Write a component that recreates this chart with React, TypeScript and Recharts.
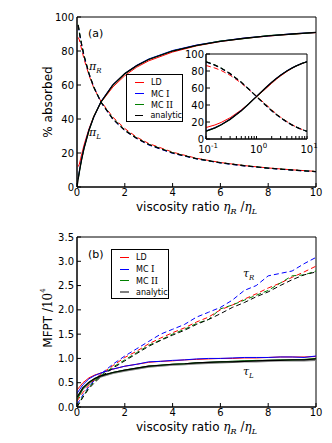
import React from "react";
import { LineChart, Line, XAxis, YAxis, Label, ReferenceArea } from "recharts";

// ---- panel (a): % absorbed vs viscosity ratio ----
const ratioA = [0, 0.05, 0.1, 0.15, 0.2, 0.3, 0.5, 0.7, 1, 1.5, 2, 2.5, 3, 4, 5, 6, 7, 8, 9, 10];

// solid curves (pi_L) and dashed curves (pi_R)
const anPiL = [0, 4.8, 9.1, 13.0, 16.7, 23.1, 33.3, 41.2, 50, 60, 66.7, 71.4, 75, 80, 83.3, 85.7, 87.5, 88.9, 90, 90.9];
const anPiR = [null, 95.2, 90.9, 87.0, 83.3, 76.9, 66.7, 58.8, 50, 40, 33.3, 28.6, 25, 20, 16.7, 14.3, 12.5, 11.1, 10, 9.1];
const ldPiL = [null, 12, 13.5, 16.5, 19.5, 25.0, 34.2, 41.5, 49.7, 58.8, 65.5, 70.5, 74.2, 79.4, 83.0, 85.6, 87.4, 88.8, 89.9, 90.8];
const ldPiR = [null, 88, 86.5, 83.5, 80.6, 75.0, 65.8, 58.4, 50.4, 41.1, 34.4, 29.3, 25.6, 20.5, 16.9, 14.4, 12.6, 11.2, 10.1, 9.2];
const mc1PiL = [null, 5, 9.5, 13.3, 16.9, 23.4, 33.6, 41.0, 50.2, 60.2, 66.8, 71.6, 75.3, 80.3, 83.5, 85.8, 87.6, 88.9, 90.1, 90.9];
const mc1PiR = [null, 95, 90.6, 86.8, 83.1, 76.7, 66.5, 59.0, 49.8, 39.8, 33.1, 28.5, 24.7, 19.8, 16.5, 14.1, 12.4, 11.0, 9.9, 9.0];
const mc2PiL = [null, 4.5, 9.0, 12.8, 16.5, 23.0, 33.1, 41.4, 49.8, 59.8, 66.5, 71.3, 75.1, 80.1, 83.2, 85.9, 87.3, 89.1, 89.9, 90.9];
const mc2PiR = [null, 95.5, 91.0, 87.1, 83.5, 77.0, 66.9, 58.7, 50.1, 40.3, 33.5, 28.8, 25.1, 20.2, 16.6, 14.2, 12.6, 11.1, 10.0, 9.1];

// ---- panel (b): MFPT / 10^4 ----
const ratioB = [0, 0.25, 0.5, 0.75, 1, 1.5, 2, 2.5, 3, 3.5, 4, 4.5, 5, 5.5, 6, 6.5, 7, 7.5, 8, 8.5, 9, 9.5, 10];

const ldTauL = [0.35, 0.5, 0.6, 0.66, 0.7, 0.78, 0.84, 0.88, 0.92, 0.94, 0.95, 0.97, 0.98, 0.99, 1.0, 1.0, 1.01, 1.01, 1.02, 1.03, 1.03, 1.03, 1.04];
const mc1TauL = [0.28, 0.46, 0.58, 0.65, 0.7, 0.78, 0.84, 0.88, 0.93, 0.94, 0.96, 0.97, 0.99, 1.0, 1.0, 1.01, 1.02, 1.02, 1.02, 1.03, 1.03, 1.02, 1.05];
const mc2TauL = [0.15, 0.38, 0.5, 0.58, 0.64, 0.71, 0.76, 0.8, 0.84, 0.86, 0.88, 0.89, 0.91, 0.92, 0.93, 0.94, 0.95, 0.96, 0.96, 0.97, 0.97, 0.98, 1.0];
const anTauL = [0.18, 0.38, 0.49, 0.57, 0.63, 0.7, 0.75, 0.79, 0.83, 0.85, 0.87, 0.88, 0.9, 0.91, 0.92, 0.93, 0.94, 0.94, 0.95, 0.96, 0.96, 0.96, 0.97];
const blkTauL = [0.2, 0.4, 0.51, 0.59, 0.64, 0.71, 0.76, 0.8, 0.84, 0.86, 0.88, 0.89, 0.91, 0.92, 0.93, 0.93, 0.94, 0.95, 0.96, 0.96, 0.97, 0.97, 0.99];

const ldTauR = [0.12, 0.3, 0.45, 0.57, 0.68, 0.85, 1.02, 1.15, 1.3, 1.42, 1.53, 1.63, 1.75, 1.85, 2.0, 2.1, 2.22, 2.33, 2.45, 2.55, 2.67, 2.78, 2.9];
const mc1TauR = [0.05, 0.25, 0.42, 0.56, 0.68, 0.88, 1.05, 1.2, 1.35, 1.5, 1.6, 1.7, 1.85, 1.95, 2.05, 2.2, 2.4, 2.5, 2.7, 2.75, 2.8, 2.95, 3.08];
const mc2TauR = [0.0, 0.22, 0.4, 0.54, 0.65, 0.82, 0.97, 1.12, 1.27, 1.38, 1.5, 1.6, 1.72, 1.8, 2.02, 2.1, 2.2, 2.3, 2.4, 2.55, 2.7, 2.72, 2.8];
const blkTauR = [0.0, 0.2, 0.38, 0.51, 0.62, 0.8, 0.95, 1.1, 1.25, 1.37, 1.48, 1.58, 1.7, 1.8, 1.92, 2.05, 2.15, 2.27, 2.37, 2.5, 2.62, 2.72, 2.78];

const ticksX = [0, 2, 4, 6, 8, 10];
const ticksA = [0, 20, 40, 60, 80, 100];
const ticksB = [0, 0.5, 1, 1.5, 2, 2.5, 3, 3.5];
const insetMajor = [0.1, 1, 10];
const insetMinor = [0.2, 0.3, 0.4, 0.5, 0.6, 0.7, 0.8, 0.9, 2, 3, 4, 5, 6, 7, 8, 9];
const insetTicks = [...insetMajor, ...insetMinor].sort((a, b) => a - b);

const legendItems = [
  { name: "LD", roman: "", color: "#ff0000" },
  { name: "MC ", roman: "I", color: "#0000ff" },
  { name: "MC ", roman: "II", color: "#008000" },
  { name: "analytic", roman: "", color: "#000000" },
];

const dataA = ratioA.map((x, i) => ({
  x,
  anL: anPiL[i], anR: anPiR[i],
  ldL: ldPiL[i], ldR: ldPiR[i],
  m1L: mc1PiL[i], m1R: mc1PiR[i],
  m2L: mc2PiL[i], m2R: mc2PiR[i],
}));
const dataInset = dataA.filter((d) => d.x >= 0.1);

const dataB = ratioB.map((x, i) => ({
  x,
  ldL: ldTauL[i], m1L: mc1TauL[i], m2L: mc2TauL[i], anL: anTauL[i], bkL: blkTauL[i],
  ldR: ldTauR[i], m1R: mc1TauR[i], m2R: mc2TauR[i], bkR: blkTauR[i],
}));

const SANS = "DejaVu Sans, sans-serif";
const SERIF = "DejaVu Serif, serif";
const DASH = "5 3";
const tickFont = { fontSize: 10, fill: "#000", fontFamily: SANS };

function XLabel(props: any) {
  const vb = props.viewBox;
  const cx = vb.x + vb.width / 2;
  return (
    <text x={cx} y={vb.y + 24} textAnchor="middle" fontSize={12} fontFamily={SANS} fill="#000">
      viscosity ratio{" "}
      <tspan fontFamily={SERIF} fontStyle="italic">η</tspan>
      <tspan fontFamily={SERIF} fontStyle="italic" fontSize={8} dy={3}>R</tspan>
      <tspan fontFamily={SERIF} dy={-3}> /</tspan>
      <tspan fontFamily={SERIF} fontStyle="italic">η</tspan>
      <tspan fontFamily={SERIF} fontStyle="italic" fontSize={8} dy={3}>L</tspan>
    </text>
  );
}

function YLabelA(props: any) {
  const vb = props.viewBox;
  const cx = 48;
  const cy = vb.y + vb.height / 2;
  return (
    <text x={cx} y={cy} transform={`rotate(-90, ${cx}, ${cy})`} textAnchor="middle" dominantBaseline="central" fontSize={12} fontFamily={SANS} fill="#000">
      % absorbed
    </text>
  );
}

function YLabelB(props: any) {
  const vb = props.viewBox;
  const cx = 48;
  const cy = vb.y + vb.height / 2 - 4;
  return (
    <text x={cx} y={cy} transform={`rotate(-90, ${cx}, ${cy})`} textAnchor="middle" dominantBaseline="central" fontSize={12} fontFamily={SANS} fill="#000">
      MFPT
      <tspan fontFamily={SERIF}> /10</tspan>
      <tspan fontFamily={SERIF} fontSize={7} dy={-5}>4</tspan>
    </text>
  );
}

// only decades get a label; the other log ticks are bare tick marks
function InsetXTick(props: any) {
  const { x, y, payload } = props;
  if (!insetMajor.includes(payload.value)) return <g />;
  const exp = Math.round(Math.log10(payload.value));
  return (
    <text x={x + 2} y={y + 12} textAnchor="middle" fontSize={10} fontFamily={SANS} fill="#000">
      10
      <tspan fontSize={7} dy={-5}>{exp}</tspan>
    </text>
  );
}

function LegendBox({ left, top, width, height, rowH, lastColor }: any) {
  return (
    <div
      style={{
        position: "absolute", left, top, width, height, boxSizing: "border-box",
        border: "1px solid #000", background: "#fff", fontFamily: SANS, fontSize: 8,
        paddingTop: 2,
      }}
    >
      {legendItems.map((it, i) => (
        <div key={it.name + i} style={{ display: "flex", alignItems: "center", height: rowH }}>
          <div style={{ marginLeft: 8, width: 9, height: i === 3 && lastColor !== "#000" ? 2 : 1, background: i === 3 ? lastColor : it.color }} />
          <span style={{ marginLeft: 7 }}>
            {it.name}
            {it.roman && <span style={{ fontFamily: SERIF, fontSize: 9 }}>{it.roman}</span>}
          </span>
        </div>
      ))}
    </div>
  );
}

export default function App() {
  return (
    <div style={{ position: "absolute", left: 0, top: 0, width: 332, height: 443, background: "#fff", fontFamily: SANS }}>
      {/* panel (a) */}
      <div style={{ position: "absolute", left: 0, top: 0 }}>
        <LineChart width={332} height={220} data={dataA} margin={{ top: 17, right: 16, bottom: 0, left: 0 }}>
          <XAxis type="number" dataKey="x" domain={[0, 10]} ticks={ticksX} interval={0} height={33} tick={tickFont} tickSize={-4} tickMargin={6} stroke="#000" allowDataOverflow>
            <Label content={XLabel} />
          </XAxis>
          <YAxis type="number" domain={[0, 100]} ticks={ticksA} interval={0} width={77} tick={tickFont} tickSize={-4} tickMargin={7} stroke="#000" allowDataOverflow>
            <Label content={YLabelA} />
          </YAxis>
          <ReferenceArea x1={0} x2={10} y1={0} y2={100} fill="none" stroke="#000" strokeWidth={1} ifOverflow="visible" />
          <Line dataKey="ldL" stroke="#ff0000" strokeWidth={1} dot={false} isAnimationActive={false} />
          <Line dataKey="ldR" stroke="#ff0000" strokeWidth={1} strokeDasharray={DASH} dot={false} isAnimationActive={false} />
          <Line dataKey="m1L" stroke="#0000ff" strokeWidth={1} dot={false} isAnimationActive={false} />
          <Line dataKey="m1R" stroke="#0000ff" strokeWidth={1} strokeDasharray={DASH} dot={false} isAnimationActive={false} />
          <Line dataKey="m2L" stroke="#008000" strokeWidth={1} dot={false} isAnimationActive={false} />
          <Line dataKey="m2R" stroke="#008000" strokeWidth={1} strokeDasharray={DASH} dot={false} isAnimationActive={false} />
          <Line dataKey="anL" stroke="#000" strokeWidth={1.3} dot={false} isAnimationActive={false} />
          <Line dataKey="anR" stroke="#000" strokeWidth={1.3} strokeDasharray={DASH} dot={false} isAnimationActive={false} />
        </LineChart>
      </div>

      {/* inset of panel (a), log x */}
      <div style={{ position: "absolute", left: 180, top: 45 }}>
        <LineChart width={145} height={115} data={dataInset} margin={{ top: 9, right: 18, bottom: 0, left: 0 }}>
          <XAxis type="number" scale="log" dataKey="x" domain={[0.1, 10]} ticks={insetTicks} interval={0} height={21} tick={<InsetXTick />} tickSize={-3} tickMargin={5} stroke="#000" allowDataOverflow />
          <YAxis type="number" domain={[0, 100]} ticks={ticksA} interval={0} width={26} tick={tickFont} tickSize={-4} tickMargin={6} stroke="#000" allowDataOverflow />
          <ReferenceArea x1={0.1} x2={10} y1={0} y2={100} fill="none" stroke="#000" strokeWidth={1} ifOverflow="visible" />
          <Line dataKey="ldL" stroke="#ff0000" strokeWidth={1} dot={false} isAnimationActive={false} />
          <Line dataKey="ldR" stroke="#ff0000" strokeWidth={1} strokeDasharray={DASH} dot={false} isAnimationActive={false} />
          <Line dataKey="m1L" stroke="#0000ff" strokeWidth={1} dot={false} isAnimationActive={false} />
          <Line dataKey="m1R" stroke="#0000ff" strokeWidth={1} strokeDasharray={DASH} dot={false} isAnimationActive={false} />
          <Line dataKey="m2L" stroke="#008000" strokeWidth={1} dot={false} isAnimationActive={false} />
          <Line dataKey="m2R" stroke="#008000" strokeWidth={1} strokeDasharray={DASH} dot={false} isAnimationActive={false} />
          <Line dataKey="anL" stroke="#000" strokeWidth={1.3} dot={false} isAnimationActive={false} />
          <Line dataKey="anR" stroke="#000" strokeWidth={1.3} strokeDasharray={DASH} dot={false} isAnimationActive={false} />
        </LineChart>
      </div>

      {/* panel (b) */}
      <div style={{ position: "absolute", left: 0, top: 220 }}>
        <LineChart width={332} height={223} data={dataB} margin={{ top: 17, right: 16, bottom: 0, left: 0 }}>
          <XAxis type="number" dataKey="x" domain={[0, 10]} ticks={ticksX} interval={0} height={36} tick={tickFont} tickSize={-4} tickMargin={6} stroke="#000" allowDataOverflow>
            <Label content={XLabel} />
          </XAxis>
          <YAxis type="number" domain={[0, 3.5]} ticks={ticksB} interval={0} width={77} tick={tickFont} tickSize={-4} tickMargin={7} tickFormatter={(v: number) => v.toFixed(1)} stroke="#000" allowDataOverflow>
            <Label content={YLabelB} />
          </YAxis>
          <ReferenceArea x1={0} x2={10} y1={0} y2={3.5} fill="none" stroke="#000" strokeWidth={1} ifOverflow="visible" />
          <Line dataKey="anL" stroke="#808080" strokeWidth={2.2} dot={false} isAnimationActive={false} />
          <Line dataKey="ldL" stroke="#ff0000" strokeWidth={1} dot={false} isAnimationActive={false} />
          <Line dataKey="ldR" stroke="#ff0000" strokeWidth={1} strokeDasharray={DASH} dot={false} isAnimationActive={false} />
          <Line dataKey="m1L" stroke="#0000ff" strokeWidth={1} dot={false} isAnimationActive={false} />
          <Line dataKey="m1R" stroke="#0000ff" strokeWidth={1} strokeDasharray={DASH} dot={false} isAnimationActive={false} />
          <Line dataKey="m2L" stroke="#008000" strokeWidth={1} dot={false} isAnimationActive={false} />
          <Line dataKey="m2R" stroke="#008000" strokeWidth={1} strokeDasharray={DASH} dot={false} isAnimationActive={false} />
          <Line dataKey="bkL" stroke="#000" strokeWidth={1.2} dot={false} isAnimationActive={false} />
          <Line dataKey="bkR" stroke="#000" strokeWidth={1} strokeDasharray={DASH} dot={false} isAnimationActive={false} />
        </LineChart>
      </div>

      {/* text annotations */}
      <svg width={332} height={443} style={{ position: "absolute", left: 0, top: 0, pointerEvents: "none" }}>
        <text x={88} y={37} fontSize={11} fontFamily={SANS}>(a)</text>
        <text x={88} y={258} fontSize={11} fontFamily={SANS}>(b)</text>
        <text x={89} y={70} fontSize={11} fontFamily={SERIF} fontStyle="italic">π<tspan fontSize={7} dy={3}>R</tspan></text>
        <text x={89} y={136} fontSize={11} fontFamily={SERIF} fontStyle="italic">π<tspan fontSize={7} dy={3}>L</tspan></text>
        <text x={243} y={277} fontSize={11} fontFamily={SERIF} fontStyle="italic">τ<tspan fontSize={7} dy={3}>R</tspan></text>
        <text x={243} y={375} fontSize={11} fontFamily={SERIF} fontStyle="italic">τ<tspan fontSize={7} dy={3}>L</tspan></text>
      </svg>

      <LegendBox left={126} top={74} width={57} height={48} rowH={11} lastColor="#000" />
      <LegendBox left={111} top={249} width={58} height={50} rowH={11.5} lastColor="#808080" />
    </div>
  );
}
